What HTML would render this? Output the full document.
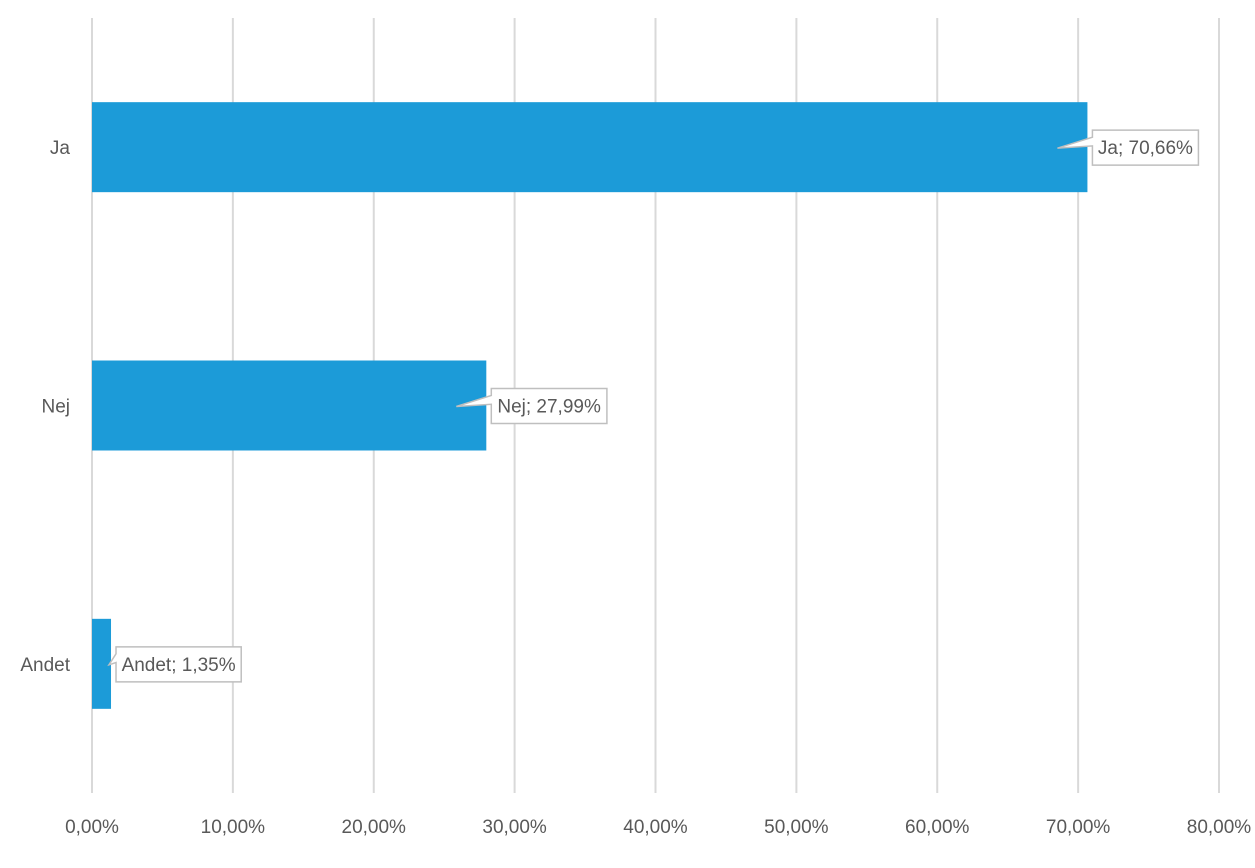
<!DOCTYPE html>
<html><head><meta charset="utf-8"><style>
body{margin:0;background:#fff;}
svg{display:block;font-family:"Liberation Sans",sans-serif;}
</style></head><body>
<svg id="chart" width="1255" height="868" viewBox="0 0 1255 868"></svg>
<script>
const categories=["Ja","Nej","Andet"];
const values=[70.66,27.99,1.35];
const valueLabels=["Ja; 70,66%","Nej; 27,99%","Andet; 1,35%"];
const ticks=[0,10,20,30,40,50,60,70,80];
const tickLabels=["0,00%","10,00%","20,00%","30,00%","40,00%","50,00%","60,00%","70,00%","80,00%"];
const NS="http://www.w3.org/2000/svg";
const svg=document.getElementById('chart');
const x0=92,x1=1219,y0=18,y1=793,xMax=80;
const xs=v=>x0+v/xMax*(x1-x0);
const band=(y1-y0)/categories.length;
const yc=i=>y0+band*(i+0.5);
function mk(t,a,p){const e=document.createElementNS(NS,t);for(const k in a)e.setAttribute(k,a[k]);(p||svg).appendChild(e);return e;}
const grid=mk('g',{});


ticks.forEach((t,i)=>{
  const l=mk('line',{x1:xs(t),x2:xs(t),y1:y0,y2:y1,stroke:'#d9d9d9','stroke-width':2},grid);
  
  
  const tx=mk('text',{x:xs(t),y:833,'text-anchor':'middle','font-size':19,fill:'#595959'});
  tx.textContent=tickLabels[i];
  
  
});
categories.forEach((c,i)=>{
  const cy=yc(i),h=90,end=xs(values[i]);
  const r=mk('rect',{x:x0,y:cy-h/2,width:end-x0,height:h,fill:'#1c9bd8'});
  
  
  const lab=mk('text',{x:70,y:cy+7,'text-anchor':'end','font-size':19,fill:'#595959'});
  lab.textContent=c;
  
  
  const bx=end+5,by=cy-17,bw=valueLabels[i].length*9.6+10,bh=35;
  const tipX=Math.max(end-30,x0+17),tipY=cy+1;
  const g=mk('g',{});
  
  
  mk('path',{d:`M${bx},${by} H${bx+bw} V${by+bh} H${bx} V${by+bh*0.45} L${tipX},${tipY} L${bx},${by+bh*0.2} Z`,fill:'#fff',stroke:'#bfbfbf','stroke-width':1.5},g);
  const t=mk('text',{x:bx+bw/2,y:cy+7,'text-anchor':'middle','font-size':19,fill:'#595959'},g);
  t.textContent=valueLabels[i];
});
</script>
</body></html>
